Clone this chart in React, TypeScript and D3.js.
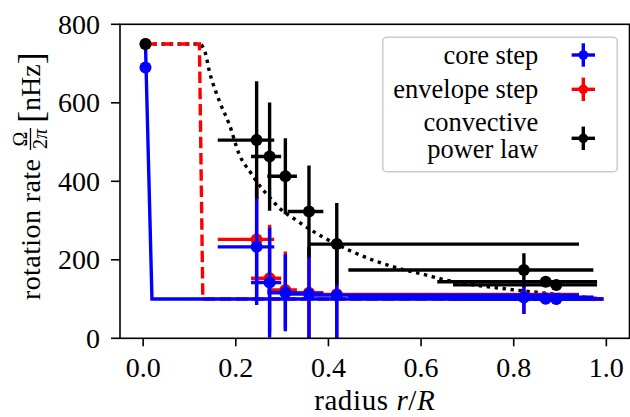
import React from "react";
import * as d3 from "d3";

const W = 630;
const H = 417;

// ---- mode data (radius of each mode, with asymmetric radial extent) ----
const radius = [0.005, 0.245, 0.273, 0.307, 0.358, 0.418, 0.822, 0.869, 0.892];
const radiusErrLow = [0, 0.084, 0.04, 0.039, 0.046, 0.058, 0.379, 0.234, 0.223];
const radiusErrHigh = [0, 0.038, 0.025, 0.025, 0.031, 0.523, 0.15, 0.111, 0.088];

const coreStepRate = [690, 233, 142, 116, 113, 110, 104, 101, 100];
const coreStepErr = [0, 148, 140, 98, 118, 115, 42, 8, 8];
const envelopeStepRate = [750, 252, 153, 123, 116, 112, 105, 102, 101];
const envelopeStepErr = [0, 148, 136, 98, 118, 115, 42, 8, 8];
const powerLawRate = [750, 505, 463, 413, 323, 240, 174, 144, 136];
const powerLawErr = [0, 150, 138, 97, 117, 105, 43, 8, 8];

// ---- model profiles ----
const coreModelR = [0.005, 0.019, 0.994];
const coreModelRate = [750, 100, 100];
const envModelR = [0.005, 0.1215, 0.1288, 0.994];
const envModelRate = [750, 750, 100, 100];
const plModelR = [0.005, 0.121, 0.134, 0.143, 0.157, 0.166, 0.186, 0.207, 0.232, 0.256, 0.274, 0.293, 0.328, 0.366, 0.388, 0.449, 0.558, 0.605, 0.648, 0.789, 0.835, 0.929, 0.99];
const plModelRate = [750, 750, 728, 680, 628, 600, 545, 470, 422, 382, 358, 333, 303, 273, 258, 222, 176, 163, 150, 125, 119, 108, 100];

const xTicks = [0, 0.2, 0.4, 0.6, 0.8, 1.0];
const yTicks = [0, 200, 400, 600, 800];

const legendLabels = [["core step"], ["envelope step"], ["convective", "power law"]];
const seriesColors = ["#0000ff", "#ff0000", "#000000"];

const FONT = "'Liberation Serif', 'DejaVu Serif', serif";
const LW = 3.4;

export default function App() {
  const x = d3.scaleLinear().domain([-0.05, 1.05]).range([120, 629.5]);
  const y = d3.scaleLinear().domain([0, 800]).range([338.3, 24.3]);
  const [x0, x1] = x.range();
  const [yb, yt] = y.range();

  const straight = d3
    .line<[number, number]>()
    .x((d) => x(d[0]))
    .y((d) => y(d[1]));
  const smooth = d3
    .line<[number, number]>()
    .x((d) => x(d[0]))
    .y((d) => y(d[1]))
    .curve(d3.curveMonotoneX);

  const zip = (a: number[], b: number[]) => a.map((v, i) => [v, b[i]] as [number, number]);

  const errSeries = (vals: number[], errs: number[], color: string, key: string) => (
    <g key={key}>
      {radius.map((r, i) => (
        <g key={i}>
          {radiusErrLow[i] + radiusErrHigh[i] > 0 && (
            <line
              x1={x(r - radiusErrLow[i])}
              x2={x(r + radiusErrHigh[i])}
              y1={y(vals[i])}
              y2={y(vals[i])}
              stroke={color}
              strokeWidth={LW}
            />
          )}
          {errs[i] > 0 && (
            <line
              x1={x(r)}
              x2={x(r)}
              y1={y(vals[i] - errs[i])}
              y2={y(vals[i] + errs[i])}
              stroke={color}
              strokeWidth={LW}
            />
          )}
        </g>
      ))}
      {radius.map((r, i) => (
        <circle key={"c" + i} cx={x(r)} cy={y(vals[i])} r={6} fill={color} />
      ))}
    </g>
  );

  // legend geometry
  const lgX = 382.7;
  const lgY = 37.3;
  const lgW = 234.6;
  const lgH = 134.4;
  const markerX = 583.3;
  const markerYs = [55, 89.3, 138.3];
  const textBaselines = [[64], [98], [131, 158]];

  return (
    <svg
      width={W}
      height={H}
      style={{ position: "absolute", left: 0, top: 0, background: "#fff" }}
      fontFamily={FONT}
    >
      <defs>
        <clipPath id="plotArea">
          <rect x={x0} y={yt} width={x1 - x0} height={yb - yt} />
        </clipPath>
      </defs>
      <rect x={0} y={0} width={W} height={H} fill="#fff" />

      <g clipPath="url(#plotArea)">
        {/* power law model (dotted) */}
        <path
          d={smooth(zip(plModelR, plModelRate)) || ""}
          fill="none"
          stroke="#000"
          strokeWidth={3.4}
          strokeDasharray="3.4,4.6"
        />
        {/* envelope step model (dashed) */}
        <path
          d={straight(zip(envModelR, envModelRate)) || ""}
          fill="none"
          stroke="#ff0000"
          strokeWidth={LW}
          strokeDasharray="11.5,4.8"
        />
        {/* core step model */}
        <path
          d={straight(zip(coreModelR, coreModelRate)) || ""}
          fill="none"
          stroke="#0000ff"
          strokeWidth={LW}
        />
        {errSeries(envelopeStepRate, envelopeStepErr, "#ff0000", "env")}
        {errSeries(coreStepRate, coreStepErr, "#0000ff", "core")}
        {errSeries(powerLawRate, powerLawErr, "#000000", "pl")}
      </g>

      {/* spines */}
      <rect x={x0} y={yt} width={x1 - x0} height={yb - yt} fill="none" stroke="#000" strokeWidth={1.6} />

      {/* x ticks */}
      {xTicks.map((t) => (
        <g key={"xt" + t}>
          <line x1={x(t)} x2={x(t)} y1={yb} y2={yb + 8} stroke="#000" strokeWidth={1.6} />
          <text x={x(t)} y={376.5} textAnchor="middle" fontSize={28}>
            {t.toFixed(1)}
          </text>
        </g>
      ))}
      {/* y ticks */}
      {yTicks.map((t) => (
        <g key={"yt" + t}>
          <line x1={x0 - 9} x2={x0} y1={y(t)} y2={y(t)} stroke="#000" strokeWidth={1.6} />
          <text x={100} y={y(t)} dy="0.34em" textAnchor="end" fontSize={28}>
            {t}
          </text>
        </g>
      ))}

      {/* x label */}
      <text x={(x0 + x1) / 2} y={410} textAnchor="middle" fontSize={29} letterSpacing={0.6}>
        radius <tspan fontStyle="italic">r</tspan>/<tspan fontStyle="italic">R</tspan>
      </text>

      {/* y label */}
      <g transform="translate(40, 300) rotate(-90)">
        <text x={0} y={0} fontSize={28} letterSpacing={0.4}>
          rotation rate
        </text>
        <text x={161} y={-13} fontSize={20} textAnchor="middle">
          Ω
        </text>
        <line x1={150} x2={172} y1={-9.5} y2={-9.5} stroke="#000" strokeWidth={1.3} />
        <text x={161} y={7} fontSize={20} textAnchor="middle">
          2<tspan fontStyle="italic">π</tspan>
        </text>
        <text x={177} y={0} fontSize={28}>
          <tspan fontSize={36} dy={3}>[</tspan>
          <tspan dy={-3}>nHz</tspan>
          <tspan fontSize={36} dy={3}>]</tspan>
        </text>
      </g>

      {/* legend */}
      <rect
        x={lgX}
        y={lgY}
        width={lgW}
        height={lgH}
        rx={4}
        fill="#fff"
        fillOpacity={0.8}
        stroke="#cccccc"
        strokeWidth={1.6}
      />
      {legendLabels.map((lines, i) => (
        <g key={"lg" + i}>
          {lines.map((s, j) => (
            <text key={j} x={538.3} y={textBaselines[i][j]} textAnchor="end" fontSize={26.5}>
              {s}
            </text>
          ))}
          <line x1={markerX - 11.7} x2={markerX + 11.7} y1={markerYs[i]} y2={markerYs[i]} stroke={seriesColors[i]} strokeWidth={LW} />
          <line x1={markerX} x2={markerX} y1={markerYs[i] - 11.7} y2={markerYs[i] + 11.7} stroke={seriesColors[i]} strokeWidth={LW} />
          <circle cx={markerX} cy={markerYs[i]} r={4.8} fill={seriesColors[i]} />
        </g>
      ))}
    </svg>
  );
}
